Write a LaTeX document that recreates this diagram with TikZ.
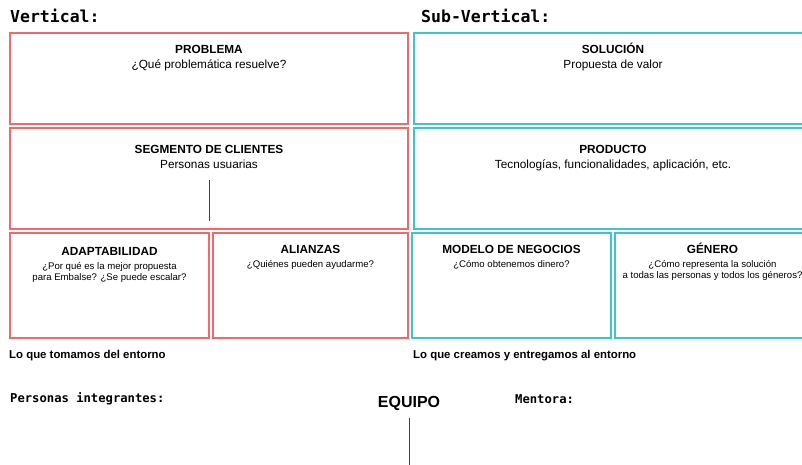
\documentclass[tikz,border=0pt]{standalone}
\usepackage{fontspec}
\setmainfont{Liberation Sans}
\setmonofont{DejaVu Sans Mono}
\usepackage{xcolor}
\usetikzlibrary{positioning}

\definecolor{tomaRed}{HTML}{EE6A6C}
\definecolor{creaCyan}{HTML}{3EC4CC}

\begin{document}
\begin{tikzpicture}[
  x=1pt, y=-1pt,
  card/.style={draw, line width=1.1pt, inner sep=0pt},
  redcard/.style={card, draw=tomaRed},
  cyancard/.style={card, draw=creaCyan},
  ttl/.style={inner sep=0pt, text height=8.5pt, text depth=2.5pt, font=\bfseries\fontsize{11.8}{13}\selectfont},
  sub/.style={inner sep=0pt, align=center, font=\fontsize{11.8}{13}\selectfont},
  subsm/.style={inner sep=0pt, align=center, font=\fontsize{9.6}{11}\selectfont},
  head/.style={inner sep=0pt, anchor=west, font=\ttfamily\bfseries\fontsize{16.5}{18}\selectfont},
  note/.style={inner sep=0pt, anchor=west, font=\bfseries\fontsize{11.4}{13}\selectfont},
  field/.style={inner sep=0pt, anchor=west, font=\ttfamily\bfseries\fontsize{12.2}{13}\selectfont},
  cursor/.style={draw=black!75, line width=0.8pt},
]
\useasboundingbox (0,0) rectangle (802,465);

% Headers
\node[head] (vert) at (10,16) {Vertical:};
\node[head] (subvert) at (421,16) {Sub-Vertical:};

% Top row
\node[redcard, minimum width=398, minimum height=91] (prob) at (209,78.5) {};
\node[cyancard, minimum width=398, minimum height=91] (sol) at (613,78.5) {};

% Middle row
\node[redcard, minimum width=398, minimum height=101] (seg) at (209,178.5) {};
\node[cyancard, minimum width=398, minimum height=101] (prod) at (613,178.5) {};

% Bottom row
\node[redcard, minimum width=199, minimum height=105] (adap) at (109.5,285.5) {};
\node[redcard, minimum width=195, minimum height=105] (ali) at (310.5,285.5) {};
\node[cyancard, minimum width=199, minimum height=105] (mod) at (511.5,285.5) {};
\node[cyancard, minimum width=195, minimum height=105] (gen) at (712.5,285.5) {};

% Card texts
\node[ttl, below=12pt of prob.north] (probT) {PROBLEMA};
\node[sub, below=4pt of probT] (probS) {¿Qué problemática resuelve?};
\node[ttl, below=12pt of sol.north] (solT) {SOLUCIÓN};
\node[sub, below=4pt of solT] (solS) {Propuesta de valor};
\node[ttl, below=17pt of seg.north] (segT) {SEGMENTO DE CLIENTES};
\node[sub, below=4pt of segT] (segS) {Personas usuarias};
\node[ttl, below=17pt of prod.north] (prodT) {PRODUCTO};
\node[sub, below=4pt of prodT] (prodS) {Tecnologías, funcionalidades, aplicación, etc.};
\node[ttl, below=14pt of adap.north] (adapT) {ADAPTABILIDAD};
\node[subsm, below=4pt of adapT] (adapS) {¿Por qué es la mejor propuesta\\para Embalse? ¿Se puede escalar?};
\node[ttl, below=12pt of ali.north] (aliT) {ALIANZAS};
\node[subsm, below=4pt of aliT] (aliS) {¿Quiénes pueden ayudarme?};
\node[ttl, below=12pt of mod.north] (modT) {MODELO DE NEGOCIOS};
\node[subsm, below=4pt of modT] (modS) {¿Cómo obtenemos dinero?};
\node[ttl, below=12pt of gen.north] (genT) {GÉNERO};
\node[subsm, below=4pt of genT] (genS) {¿Cómo representa la solución\\a todas las personas y todos los géneros?};

% Notes under the rows
\node[note] (toma) at (9,356) {Lo que tomamos del entorno};
\node[note] (crea) at (413,356) {Lo que creamos y entregamos al entorno};

% Team
\node[field] (integ) at (10,399) {Personas integrantes:};
\node[inner sep=0pt, font=\bfseries\fontsize{16}{18}\selectfont] (equipo) at (409,403) {EQUIPO};
\node[field] (ment) at (515,399) {Mentora:};

% Text cursors
\draw[cursor] (209,180) -- (209,221);
\draw[cursor] (409,418) -- (409,465);
\end{tikzpicture}
\end{document}
